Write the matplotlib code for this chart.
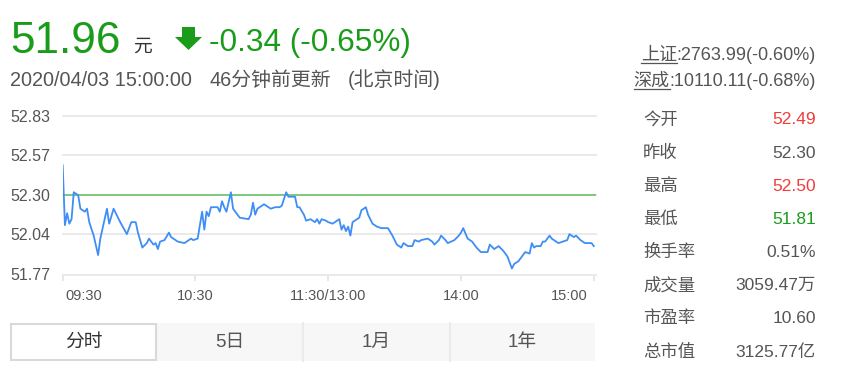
import numpy as np
import matplotlib
matplotlib.use('Agg')
import matplotlib.pyplot as plt
import matplotlib.transforms as mtransforms
from matplotlib.patches import Rectangle, Polygon

plt.rcParams['font.family'] = ['Liberation Sans', 'Noto Sans CJK SC']

GREEN = '#1a9c1a'
RED = '#f03c3c'
GREY = '#555555'

# ---------- data ----------
last_price = '51.96'
change_text = '-0.34 (-0.65%)'
time_text = '2020/04/03 15:00:00'
update_text = '46分钟前更新'
zone_text = '(北京时间)'

# minutes since 09:30 (lunch break removed) and price
minute = [0, 1, 2, 3, 4, 5, 7, 8, 10, 11, 12, 14, 16, 17, 20, 21, 23, 26, 29, 31,
          33, 34, 36, 38, 39, 41, 42, 43, 44, 46, 48, 49, 52, 55, 58, 59, 61, 62, 63, 64,
          65, 66, 67, 70, 71, 72, 73, 74, 76, 77, 80, 84, 85, 86, 87, 88, 91, 94, 96, 98,
          99, 101, 102, 105, 106, 107, 109, 110, 112, 114, 115, 116, 117, 119, 120, 122, 123, 125, 126, 127,
          128, 129, 130, 131, 133, 134, 135, 137, 138, 140, 142, 144, 147, 149, 151, 153, 154, 156, 158, 159,
          161, 162, 165, 167, 168, 170, 171, 173, 174, 177, 179, 180, 181, 183, 185, 187, 189, 192, 193, 195,
          197, 199, 201, 203, 204, 206, 208, 209, 211, 212, 213, 214, 216, 217, 218, 220, 221, 224, 226, 228,
          229, 231, 232, 234, 236, 239, 240]
price = [52.50, 52.10, 52.18, 52.11, 52.14, 52.32, 52.30, 52.21, 52.19, 52.21, 52.12, 52.03, 51.90, 52.01, 52.21, 52.11, 52.21, 52.12, 52.04, 52.12,
         52.12, 52.05, 51.95, 51.98, 52.01, 51.97, 51.98, 51.94, 51.99, 52.00, 52.05, 52.02, 51.99, 51.98, 52.01, 52.00, 52.01, 52.10, 52.19, 52.07,
         52.19, 52.16, 52.22, 52.22, 52.19, 52.26, 52.22, 52.19, 52.32, 52.21, 52.15, 52.14, 52.17, 52.25, 52.17, 52.21, 52.24, 52.21, 52.22, 52.22,
         52.23, 52.32, 52.29, 52.29, 52.22, 52.22, 52.17, 52.13, 52.14, 52.12, 52.14, 52.11, 52.14, 52.13, 52.12, 52.11, 52.12, 52.14, 52.07, 52.10,
         52.06, 52.09, 52.03, 52.12, 52.14, 52.15, 52.20, 52.22, 52.17, 52.11, 52.09, 52.08, 52.08, 52.03, 51.97, 51.95, 51.98, 51.96, 51.96, 52.00,
         51.99, 52.00, 52.01, 51.99, 51.97, 52.00, 52.03, 52.00, 51.98, 52.00, 52.03, 52.05, 52.08, 52.01, 51.99, 51.95, 51.92, 51.92, 51.97, 51.94,
         51.96, 51.93, 51.89, 51.81, 51.84, 51.86, 51.90, 51.92, 51.91, 51.98, 51.95, 51.96, 51.96, 51.99, 51.99, 52.03, 52.01, 51.98, 51.99, 52.00,
         52.04, 52.02, 52.03, 52.00, 51.98, 51.98, 51.96]
prev_close = 52.30
yticks = [51.77, 52.04, 52.30, 52.57, 52.83]
xticks = [0, 60, 120, 180, 240]
xlabels = ['09:30', '10:30', '11:30/13:00', '14:00', '15:00']

index_names = ['上证', '深成']
index_values = [':2763.99(-0.60%)', ':10110.11(-0.68%)']
stat_names = ['今开', '昨收', '最高', '最低', '换手率', '成交量', '市盈率', '总市值']
stat_values = ['52.49', '52.30', '52.50', '51.81', '0.51%', '3059.47万', '10.60', '3125.77亿']
stat_colors = [RED, GREY, RED, GREEN, GREY, GREY, GREY, GREY]
tabs = ['分时', '5日', '1月', '1年']

# ---------- figure ----------
W, H = 844, 381
fig = plt.figure(figsize=(W / 100, H / 100), dpi=100)
bg = fig.add_axes([0, 0, 1, 1])
bg.set_xlim(0, W)
bg.set_ylim(H, 0)
bg.axis('off')

# header
bg.text(10, 53, last_price, fontsize=31.8, color=GREEN, va='baseline')
bg.text(133, 52, '元', fontsize=13.5, color='#333333', va='baseline')
bg.add_patch(Polygon([(182, 27), (195, 27), (195, 37), (202, 37), (188.5, 50), (175, 37), (182, 37)],
                     closed=True, color=GREEN, lw=0))
bg.text(209, 51, change_text, fontsize=22.7, color=GREEN, va='baseline')
bg.text(10, 86, time_text, fontsize=14.3, color=GREY, va='baseline')
bg.text(210, 86, update_text, fontsize=14.3, color=GREY, va='baseline')
bg.text(348, 86, zone_text, fontsize=14.3, color=GREY, va='baseline')

# price chart
ax = fig.add_axes([62.7 / W, 1 - 274.5 / H, (596 - 62.7) / W, (274.5 - 116) / H])
ax.plot(minute, price, color='#3f8ef5', lw=1.3, zorder=3)
ax.axhline(prev_close, color='#6cc36c', lw=1.2, zorder=2)
ax.set_xlim(0, 241)
ax.set_ylim(51.77, 52.83)
ax.set_yticks(yticks)
ax.set_yticklabels(['%.2f' % v for v in yticks])
ax.set_xticks(xticks)
ax.set_xticklabels(xlabels)
ax.grid(axis='y', color='#e8e8e8', lw=1.3)
for gl in ax.get_ygridlines():
    gl.set_clip_on(False)
ax.set_axisbelow(True)
for s in ax.spines.values():
    s.set_visible(False)
ax.tick_params(axis='y', length=0, pad=9, labelsize=11.5, labelcolor=GREY)
ax.tick_params(axis='x', length=4.5, width=1.1, color='#e0e0e0', pad=6,
               labelsize=10.5, labelcolor=GREY)
lbls = ax.get_xticklabels()
lbls[0].set_ha('left')
lbls[0].set_transform(lbls[0].get_transform() + mtransforms.ScaledTranslation(3 / 100, 0, fig.dpi_scale_trans))
lbls[-1].set_ha('right')
lbls[-1].set_transform(lbls[-1].get_transform() + mtransforms.ScaledTranslation(-6 / 100, 0, fig.dpi_scale_trans))

# tabs
bg.add_patch(Rectangle((157, 323), 438, 38, facecolor='#f7f7f7', edgecolor='none'))
for xs in [303, 450]:
    bg.plot([xs, xs], [323, 361], color='#ebebeb', lw=1.5)
bg.add_patch(Rectangle((11, 324), 145, 36, facecolor='white', edgecolor='#d9d9d9', lw=1.5))
for i, (t, xc) in enumerate(zip(tabs, [83.5, 230, 376.5, 522.5])):
    bg.text(xc, 342, t, fontsize=13.5, ha='center', va='center',
            color='#333333' if i == 0 else GREY)

# right panel: indices
fig.canvas.draw()
renderer = fig.canvas.get_renderer()
inv = bg.transData.inverted()
for name, val, yc in zip(index_names, index_values, [55, 81]):
    tv = bg.text(816, yc, val, fontsize=13, color=GREY, ha='right', va='center')
    bb = tv.get_window_extent(renderer)
    left = inv.transform((bb.x0, bb.y0))[0]
    tn = bg.text(left, yc, name, fontsize=13, color=GREY, ha='right', va='center')
    bn = tn.get_window_extent(renderer)
    x0 = inv.transform((bn.x0, bn.y0))[0]
    bg.plot([x0, left], [yc + 8, yc + 8], color=GREY, lw=0.9)

# right panel: stats
for i, (n, v, c) in enumerate(zip(stat_names, stat_values, stat_colors)):
    yc = 120 + 33.1 * i
    bg.text(643, yc, n, fontsize=12.5, color=GREY, va='center')
    bg.text(816, yc, v, fontsize=12.5, color=c, ha='right', va='center')

fig.savefig('out.png', dpi=100)
